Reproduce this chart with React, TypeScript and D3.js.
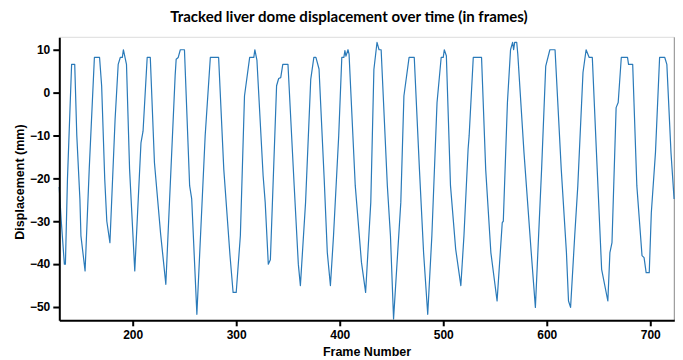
import React, { useEffect, useRef } from "react";
import * as d3 from "d3";

// frame numbers and tracked displacement (mm)
const frames = [
  129, 131, 134, 135, 137, 141, 144, 146, 149, 150, 154, 158, 163, 168, 170, 173, 175, 178,
  183, 186, 188, 190, 191, 194, 197, 202, 208, 210, 214, 217, 221, 227, 230, 232, 241, 242,
  244, 246, 250, 255, 257, 262, 270, 275, 283, 288, 294, 297, 300, 304, 308, 313, 317, 318,
  320, 326, 328, 331, 333, 339, 341, 343, 345, 350, 356, 360, 362, 367, 372, 375, 377, 380,
  385, 388, 391, 394, 399, 402, 404, 405, 406, 408, 409, 415, 421, 425, 430, 433, 436, 438,
  440, 446, 449, 452, 459, 462, 467, 472, 477, 481, 485, 489, 494, 498, 500, 501, 503, 507,
  512, 517, 520, 524, 525, 529, 537, 541, 546, 552, 557, 558, 562, 565, 567, 568, 569, 571,
  572, 578, 585, 589, 595, 599, 603, 608, 614, 619, 621, 623, 627, 630, 635, 638, 641, 644,
  648, 653, 659, 661, 663, 667, 669, 672, 678, 679, 683, 687, 692, 694, 696, 699, 701, 705,
  709, 714, 716, 720, 723,
];
const displacement = [
  -22, -30, -40, -40, -20, 6.6, 6.6, -10, -24.8, -33.4, -41.6, -17.9, 8.2, 8.2, 1.6, -20.2, -30, -35,
  -6.2, 6.6, 8.2, 8.2, 10, 6.6, -17.9, -41.6, -11.7, -9, 8.2, 8.2, -16.3, -33, -40, -44.7, 3.9, 7.8,
  8.2, 10, 10, -21.7, -24.8, -51.7, -10.1, 8.2, 8.2, -17.9, -38, -46.6, -46.6, -33.4, -0.8, 8.2, 8.2, 10,
  7.6, -19.4, -25.6, -40, -39, 1.6, 3.3, 3.5, 6.6, 6.6, -21.7, -40, -45, -25.6, 3.1, 8.2, 8.2, 5.5,
  -20.2, -37.3, -45, -33.4, -10.1, 8.2, 8.2, 9.8, 8.5, 10, 9, -21.7, -39.6, -46.6, -25.6, 5.4, 11.7, 10,
  10, -21.7, -33.4, -52.8, -25.6, -0.8, 8.2, 8.2, -17.9, -37.3, -51.7, -33.4, -2.3, 8.2, 8.2, 10, 8.6, -21.7,
  -36.5, -45, -33.4, -13.2, -10.1, 8.2, 8.2, -17.9, -37.3, -48.6, -30.3, -30, -2.3, 10, 11.7, 10, 11.7, 11.7,
  9, -14, -37.3, -50.1, -17.9, 6.2, 10, 10, -17.9, -37.3, -48.6, -50.1, -33.4, -21.7, 4.7, 10, 8.2, 8.2,
  -14, -41.2, -48.6, -37.3, -35, -3.5, -2.3, 8.2, 8.2, 6.6, 6.6, -21.7, -38, -38.5, -42, -42, -28, -14,
  8.2, 8.2, 6.6, -14, -24.8,
];
const xTicks = [200, 300, 400, 500, 600, 700];
const yTicks = [10, 0, -10, -20, -30, -40, -50];

const App = () => {
  const ref = useRef<SVGSVGElement>(null);

  useEffect(() => {
    const svg = d3.select(ref.current);
    svg.selectAll("*").remove();

    const left = 59.3, right = 674.3, top = 37.3, bottom = 320.3;
    const x = d3.scaleLinear().domain([129.1, 723.2]).range([left, right]);
    const y = d3.scaleLinear().domain([-53.1, 12.9]).range([bottom, top]);
    const tickFont = "'Liberation Sans', Arial, sans-serif";

    // frame: light top, grey right
    svg.append("line").attr("x1", left).attr("x2", right).attr("y1", top).attr("y2", top)
      .attr("stroke", "#dcdcdc").attr("stroke-width", 1);
    svg.append("line").attr("x1", right).attr("x2", right).attr("y1", top).attr("y2", bottom)
      .attr("stroke", "#888").attr("stroke-width", 1);

    const pts = frames.map((f, i) => [f, displacement[i]] as [number, number]);
    svg.append("path")
      .datum(pts)
      .attr("fill", "none")
      .attr("stroke", "#2a7ab9")
      .attr("stroke-width", 1.2)
      .attr("stroke-linejoin", "round")
      .attr("d", d3.line<[number, number]>().x((d) => x(d[0])).y((d) => y(d[1])));

    const xAxis = svg.append("g")
      .attr("transform", "translate(0," + bottom + ")")
      .call(d3.axisBottom(x).tickValues(xTicks).tickSize(6).tickPadding(4).tickSizeOuter(0));
    xAxis.select(".domain").attr("stroke", "#000").attr("stroke-width", 2);
    xAxis.selectAll(".tick line").attr("stroke", "#000").attr("stroke-width", 2);
    xAxis.selectAll("text").style("font-family", tickFont).style("font-size", "12px")
      .style("font-weight", "bold").attr("fill", "#000");

    const yAxis = svg.append("g")
      .attr("transform", "translate(" + left + ",0)")
      .call(d3.axisLeft(y).tickValues(yTicks).tickSize(6).tickPadding(3).tickSizeOuter(0));
    yAxis.select(".domain").attr("stroke", "#000").attr("stroke-width", 2);
    yAxis.selectAll(".tick line").attr("stroke", "#000").attr("stroke-width", 2);
    yAxis.selectAll("text").style("font-family", tickFont).style("font-size", "12px")
      .style("font-weight", "bold").attr("fill", "#000");

    svg.append("text")
      .attr("x", 349)
      .attr("y", 22)
      .attr("text-anchor", "middle")
      .style("font-family", "Lato, 'Open Sans', sans-serif")
      .style("font-size", "15px")
      .style("font-weight", "bold")
      .text("Tracked liver dome displacement over time (in frames)");

    svg.append("text")
      .attr("x", 367)
      .attr("y", 356)
      .attr("text-anchor", "middle")
      .style("font-family", tickFont)
      .style("font-size", "12.5px")
      .style("font-weight", "bold")
      .text("Frame Number");

    svg.append("text")
      .attr("transform", "translate(24,182) rotate(-90)")
      .attr("text-anchor", "middle")
      .style("font-family", tickFont)
      .style("font-size", "12.5px")
      .style("font-weight", "bold")
      .text("Displacement (mm)");
  }, []);

  return (
    <div style={{ position: "absolute", left: 0, top: 0 }}>
      <svg ref={ref} width={683} height={360} style={{ display: "block", background: "#fff" }} />
    </div>
  );
};

export default App;
